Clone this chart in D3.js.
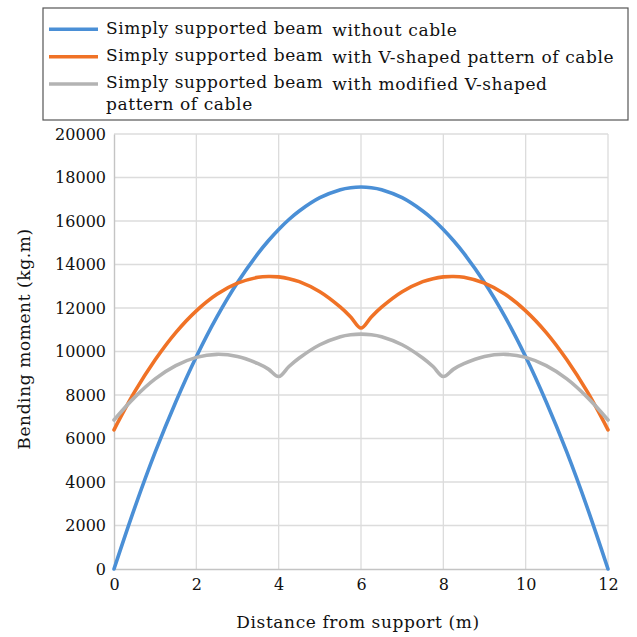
<!DOCTYPE html>
<html>
<head>
<meta charset="utf-8">
<script src="https://cdn.jsdelivr.net/npm/d3@7"></script>
<style>
  html, body { margin: 0; padding: 0; background: #fff; }
  svg { display: block; }
</style>
</head>
<body>
<svg id="chart" width="637" height="637"></svg>
<script>
// Distance along the 12 m span (m)
const distance = [0, 0.5, 1, 1.5, 2, 2.5, 3, 3.5, 3.75, 4, 4.25, 4.5, 5, 5.5, 5.75, 6,
                  6.25, 6.5, 7, 7.5, 7.75, 8, 8.25, 8.5, 9, 9.5, 10, 10.5, 11, 11.5, 12];

// Bending moment (kg.m) for each configuration
const momentNoCable = [0, 2800, 5370, 7680, 9760, 11590, 13170, 14510, 15090, 15610, 16070, 16460, 17070, 17440, 17530, 17560,
                       17530, 17440, 17070, 16460, 16070, 15610, 15090, 14510, 13170, 11590, 9760, 7680, 5370, 2800, 0];
const momentVCable = [6400, 8140, 9620, 10870, 11870, 12630, 13140, 13410, 13450, 13430, 13350, 13210, 12750, 12040, 11590, 11080,
                      11590, 12040, 12750, 13210, 13350, 13430, 13450, 13410, 13140, 12630, 11870, 10870, 9620, 8140, 6400];
const momentModifiedV = [6850, 7890, 8740, 9350, 9730, 9870, 9770, 9440, 9190, 8850, 9310, 9700, 10310, 10680, 10770, 10800,
                         10770, 10680, 10310, 9700, 9310, 8850, 9190, 9440, 9770, 9870, 9730, 9350, 8740, 7890, 6850];

const seriesNames = [
  ["Simply supported beam", "without cable"],
  ["Simply supported beam", "with V-shaped pattern of cable"],
  ["Simply supported beam", "with modified V-shaped", "pattern of cable"]
];
const seriesColors = ["#4a8fd6", "#f07226", "#b3b3b3"];

const xTicks = [0, 2, 4, 6, 8, 10, 12];
const yTicks = [0, 2000, 4000, 6000, 8000, 10000, 12000, 14000, 16000, 18000, 20000];

const xTitle = "Distance from support (m)";
const yTitle = "Bending moment (kg.m)";

const svg = d3.select("#chart");
const plot = { left: 114, right: 608, top: 134, bottom: 569 };

const x = d3.scaleLinear().domain([0, 12]).range([plot.left, plot.right]);
const y = d3.scaleLinear().domain([0, 20000]).range([plot.bottom, plot.top]);

const serif = '"DejaVu Serif", serif';
const fontSize = 17;
const spacing = 0.6;

function styleText(sel, size, ls) {
  sel.attr("font-family", serif)
     .attr("font-size", size)
     .attr("letter-spacing", ls)
     .attr("fill", "#111");
  return sel;
}

// Gridlines
const grid = svg.append("g").attr("class", "grid");
grid.selectAll("line.v").data(xTicks.filter(d => d !== 0)).join("line")
  .attr("x1", d => x(d)).attr("x2", d => x(d))
  .attr("y1", plot.top).attr("y2", plot.bottom)
  .attr("stroke", "#dcdcdc").attr("stroke-width", 1.3);
grid.selectAll("line.h").data(yTicks.filter(d => d !== 0)).join("line")
  .attr("x1", plot.left).attr("x2", plot.right)
  .attr("y1", d => y(d)).attr("y2", d => y(d))
  .attr("stroke", "#dcdcdc").attr("stroke-width", 1.3);

// Axes
const xAxis = svg.append("g")
  .attr("transform", `translate(0,${plot.bottom})`)
  .call(d3.axisBottom(x).tickValues(xTicks).tickSize(0).tickPadding(10).tickFormat(d3.format("d")));
const yAxis = svg.append("g")
  .attr("transform", `translate(${plot.left},0)`)
  .call(d3.axisLeft(y).tickValues(yTicks).tickSize(0).tickPadding(8).tickFormat(d3.format("d")));

[xAxis, yAxis].forEach(a => {
  a.attr("font-family", serif);
  a.select(".domain").attr("stroke", "#c4c4c4").attr("stroke-width", 1.4);
  styleText(a.selectAll("text"), 16, 0);
});

// Series lines
const line = d3.line()
  .x((d, i) => x(distance[i]))
  .y(d => y(d))
  .curve(d3.curveCatmullRom.alpha(0.5));

[momentNoCable, momentVCable, momentModifiedV].forEach((vals, k) => {
  svg.append("path")
    .datum(vals)
    .attr("d", line)
    .attr("fill", "none")
    .attr("stroke", seriesColors[k])
    .attr("stroke-width", 3.6)
    .attr("stroke-linejoin", "round")
    .attr("stroke-linecap", "round");
});

// Axis titles
styleText(svg.append("text"), fontSize, spacing)
  .attr("x", (plot.left + plot.right) / 2 - 3)
  .attr("y", 628)
  .attr("text-anchor", "middle")
  .text(xTitle);

styleText(svg.append("text"), fontSize, spacing)
  .attr("transform", `translate(30,${339}) rotate(-90)`)
  .attr("text-anchor", "middle")
  .text(yTitle);

// Legend
const legend = svg.append("g").attr("class", "legend");
legend.append("rect")
  .attr("x", 43).attr("y", 8).attr("width", 585).attr("height", 112)
  .attr("fill", "#fff").attr("stroke", "#555").attr("stroke-width", 1.2);

const sampleY = [29.3, 56.7, 84];
const textY = [[33.5, 35.5], [60.8, 62.8], [87.5, 89.5, 110]];
seriesNames.forEach((parts, k) => {
  legend.append("line")
    .attr("x1", 49).attr("x2", 98)
    .attr("y1", sampleY[k]).attr("y2", sampleY[k])
    .attr("stroke", seriesColors[k]).attr("stroke-width", 3.6);
  const t = styleText(legend.append("text"), fontSize, spacing)
    .attr("x", 106).attr("y", textY[k][0]);
  t.append("tspan").text(parts[0]);
  t.append("tspan").attr("dx", 3).attr("y", textY[k][1]).text(" " + parts[1]);
  if (parts[2]) {
    styleText(legend.append("text"), fontSize, spacing)
      .attr("x", 106).attr("y", textY[k][2])
      .text(parts[2]);
  }
});
</script>
</body>
</html>
